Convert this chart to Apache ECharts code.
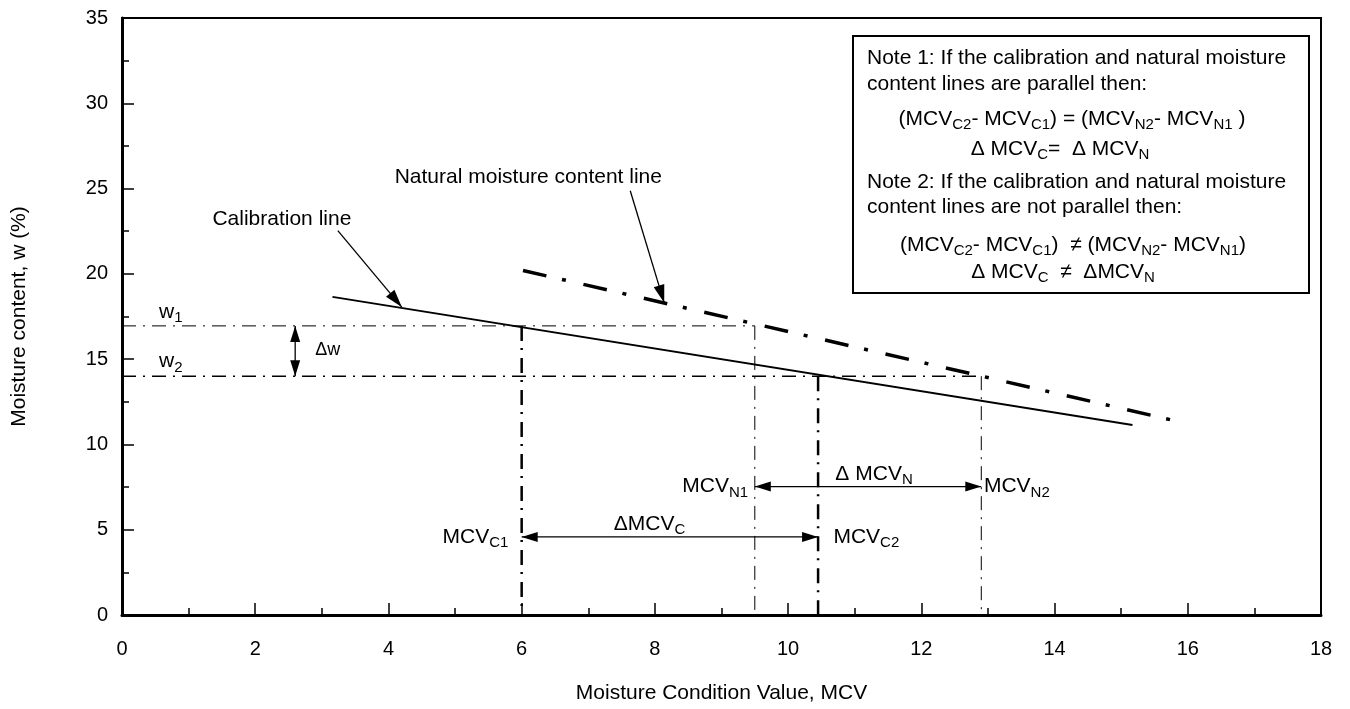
<!DOCTYPE html>
<html>
<head>
<meta charset="utf-8">
<script src="https://cdn.jsdelivr.net/npm/echarts@6/dist/echarts.min.js"></script>
<style>
  html, body { margin: 0; padding: 0; background: #fff; }
  #chart { width: 1350px; height: 709px; }
</style>
</head>
<body>
<div id="chart"></div>
<script>
// values: [MCV, w (%)]
const calibrationLine = [[3.16, 18.65], [15.17, 11.14]];
const naturalLine = [[6.02, 20.2], [15.83, 11.37]];

const w1 = 16.95, w2 = 14.0;
const mcvC1 = 6.0, mcvC2 = 10.45, mcvN1 = 9.5, mcvN2 = 12.9;

const w1Guide = [[0, w1], [mcvN1, w1]];
const w2Guide = [[0, w2], [mcvN2, w2]];
const c1Drop = [[mcvC1, w1], [mcvC1, 0]];
const c2Drop = [[mcvC2, w2], [mcvC2, 0]];
const n1Drop = [[mcvN1, w1], [mcvN1, 0]];
const n2Drop = [[mcvN2, w2], [mcvN2, 0]];

// arrows: x1, y1, x2, y2, heads at both ends (1) or only at end (0)
const arrows = [
  [2.6, w1, 2.6, w2, 1],
  [mcvC1, 4.58, mcvC2, 4.58, 1],
  [mcvN1, 7.53, mcvN2, 7.53, 1],
  [3.24, 22.53, 4.2, 18.05, 0],
  [7.63, 24.87, 8.14, 18.3, 0]
];

// annotation labels with their anchor in data units
const labelText = [
  'Calibration line', 'Natural moisture content line',
  'w{s|1}', 'w{s|2}', 'Δw',
  'MCV{s|C1}', 'MCV{s|C2}', 'ΔMCV{s|C}',
  'MCV{s|N1}', 'Δ MCV{s|N}', 'MCV{s|N2}'
];
const labelAt = [
  [2.4, 23.23], [6.1, 25.69],
  [0.555, 17.78], [0.555, 14.85], [2.9, 15.56],
  [5.8, 4.58], [10.68, 4.58], [7.92, 5.35],
  [9.4, 7.53], [11.29, 8.28], [12.94, 7.53]
];
const labelAlign = ['center', 'center', 'left', 'left', 'left', 'right', 'left', 'center', 'right', 'center', 'left'];
const labelSize = [21, 21, 21, 21, 18, 21, 21, 21, 21, 21, 21];

const noteLines = [
  'Note 1: If the calibration and natural moisture',
  'content lines are parallel then:',
  '(MCV{s|C2}- MCV{s|C1}) = (MCV{s|N2}- MCV{s|N1} )',
  'Δ MCV{s|C}=  Δ MCV{s|N}',
  'Note 2: If the calibration and natural moisture',
  'content lines are not parallel then:',
  '(MCV{s|C2}- MCV{s|C1})  ≠ (MCV{s|N2}- MCV{s|N1})',
  'Δ MCV{s|C}  ≠  ΔMCV{s|N}'
];

const FAMILY = '"Liberation Sans", Arial, sans-serif';
const rich = { s: { font: '15px ' + FAMILY, fill: '#000', padding: [12, 0, 0, 0] } };

const chart = echarts.init(document.getElementById('chart'));

function guide(data, width, dash) {
  return {
    type: 'line', data: data, showSymbol: false, silent: true, z: 3,
    lineStyle: { color: '#000', width: width, type: dash }
  };
}

function arrowHead(tip, from, len, wid) {
  const dx = tip[0] - from[0], dy = tip[1] - from[1];
  const d = Math.sqrt(dx * dx + dy * dy) || 1;
  const ux = dx / d, uy = dy / d;
  const bx = tip[0] - ux * len, by = tip[1] - uy * len;
  return {
    type: 'polygon',
    shape: { points: [tip, [bx - uy * wid / 2, by + ux * wid / 2], [bx + uy * wid / 2, by - ux * wid / 2]] },
    style: { fill: '#000' }
  };
}

const noteY = [58, 84, 119, 149, 182, 207, 245, 272];
const noteX = [867, 867, 1072, 1060, 867, 867, 1073, 1063];
const noteAlign = ['left', 'left', 'center', 'center', 'left', 'left', 'center', 'center'];
const noteGraphics = [{
  type: 'rect', z: 100,
  shape: { x: 853, y: 36, width: 456, height: 257 },
  style: { fill: '#fff', stroke: '#000', lineWidth: 2 }
}].concat(noteLines.map((t, i) => ({
  type: 'text', z: 101,
  x: noteX[i], y: noteY[i],
  style: {
    text: t, font: '21px ' + FAMILY, fill: '#000', rich: rich,
    align: noteAlign[i], textAlign: noteAlign[i],
    verticalAlign: 'middle', textVerticalAlign: 'middle'
  }
})));

const axisCommon = {
  type: 'value',
  axisLine: { show: true, onZero: false, lineStyle: { color: '#000', width: 3 } },
  axisTick: { show: true, inside: true, length: 12, lineStyle: { color: '#000', width: 1.5 } },
  minorTick: { show: true, splitNumber: 2, length: 7, lineStyle: { color: '#000', width: 1.5 } },
  splitLine: { show: false },
  nameLocation: 'middle',
  nameTextStyle: { color: '#000', fontSize: 21, fontFamily: FAMILY }
};

const option = {
  backgroundColor: '#fff',
  animation: false,
  grid: { left: 122, right: 29, top: 18, bottom: 93, show: true, borderColor: '#000', borderWidth: 2 },
  xAxis: Object.assign({}, axisCommon, {
    min: 0, max: 18, interval: 2,
    name: 'Moisture Condition Value, MCV', nameGap: 68,
    axisLabel: { color: '#000', fontSize: 20, fontFamily: FAMILY, margin: 24 }
  }),
  yAxis: Object.assign({}, axisCommon, {
    min: 0, max: 35, interval: 5,
    name: 'Moisture content, w (%)', nameGap: 92,
    axisLabel: { color: '#000', fontSize: 20, fontFamily: FAMILY, margin: 14 }
  }),
  graphic: noteGraphics,
  series: [
    guide(w1Guide, 1, [14, 7, 2, 7]),
    guide(w2Guide, 1.5, [14, 7, 2, 7]),
    guide(c1Drop, 2.5, [15, 7, 2, 8]),
    guide(c2Drop, 2.5, [15, 7, 2, 8]),
    guide(n1Drop, 1, [14, 7, 2, 7]),
    guide(n2Drop, 1, [14, 7, 2, 7]),
    {
      type: 'line', name: 'Calibration line', data: calibrationLine, showSymbol: false, z: 4,
      lineStyle: { color: '#000', width: 2 }
    },
    {
      type: 'line', name: 'Natural moisture content line', data: naturalLine, showSymbol: false, z: 4,
      lineStyle: { color: '#000', width: 3.5, type: [24, 16, 4, 18] }
    },
    {
      type: 'custom', z: 5, silent: true,
      data: arrows,
      encode: { x: [0, 2], y: [1, 3] },
      renderItem: function (params, api) {
        const p1 = api.coord([api.value(0), api.value(1)]);
        const p2 = api.coord([api.value(2), api.value(3)]);
        const both = api.value(4) === 1;
        const len = both ? 16 : 18, wid = both ? 10 : 11;
        const children = [{
          type: 'line',
          shape: { x1: p1[0], y1: p1[1], x2: p2[0], y2: p2[1] },
          style: { stroke: '#000', lineWidth: 1.3 }
        }, arrowHead(p2, p1, len, wid)];
        if (both) children.push(arrowHead(p1, p2, len, wid));
        return { type: 'group', children: children };
      }
    },
    {
      type: 'custom', z: 6, silent: true,
      data: labelAt,
      encode: { x: 0, y: 1 },
      renderItem: function (params, api) {
        const p = api.coord([api.value(0), api.value(1)]);
        const i = params.dataIndex;
        const a = labelAlign[i];
        return {
          type: 'text', x: p[0], y: p[1],
          style: {
            text: labelText[i], font: labelSize[i] + 'px ' + FAMILY, fill: '#000', rich: rich,
            align: a, textAlign: a, verticalAlign: 'middle', textVerticalAlign: 'middle'
          }
        };
      }
    }
  ]
};

chart.setOption(option);
</script>
</body>
</html>
